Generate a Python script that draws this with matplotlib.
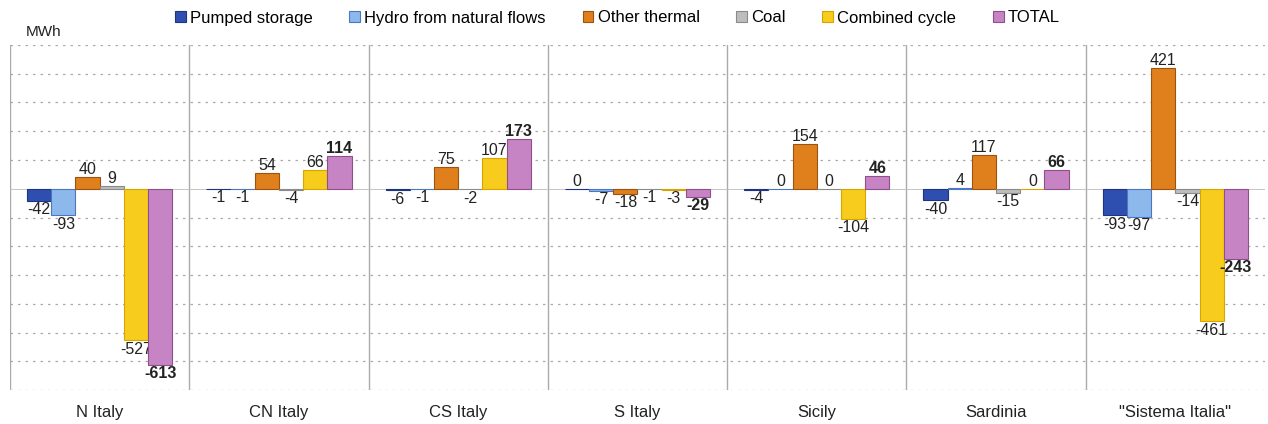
import numpy as np
import matplotlib.pyplot as plt
from matplotlib.patches import Patch

plt.rcParams['font.family'] = ['Liberation Sans', 'DejaVu Sans']

# data (MWh)
zones = ["N Italy", "CN Italy", "CS Italy", "S Italy", "Sicily", "Sardinia", "\"Sistema Italia\""]
series = ["Pumped storage", "Hydro from natural flows", "Other thermal", "Coal", "Combined cycle", "TOTAL"]
pumped = [-42, -1, -6, 0, -4, -40, -93]
hydro = [-93, -1, -1, -7, 0, 4, -97]
other_thermal = [40, 54, 75, -18, 154, 117, 421]
coal = [9, -4, -2, -1, 0, -15, -14]
combined = [-527, 66, 107, -3, -104, 0, -461]
total = [-613, 114, 173, -29, 46, 66, -243]

colors = ["#2f4fb0", "#8cb8ec", "#e0801c", "#bdbdbd", "#f7cc1c", "#c784c4"]
edges = ["#1d3580", "#4a78c0", "#9c5210", "#8a8a8a", "#d8a500", "#8f4f8c"]

fig = plt.figure(figsize=(12.68, 4.24), dpi=100)
ax = fig.add_axes([10 / 1268, 1 - 390 / 424, 1255 / 1268, 345 / 424])

x = np.arange(len(zones))
w = 0.135
all_series = [pumped, hydro, other_thermal, coal, combined, total]
for i, vals in enumerate(all_series):
    xs = x + (i - 2.5) * w
    ax.bar(xs, vals, w, color=colors[i], edgecolor=edges[i], linewidth=0.8, zorder=3)
    for xi, v in zip(xs, vals):
        weight = "bold" if i == 5 else "normal"
        if v >= 0:
            ax.annotate(str(v), (xi, v), xytext=(0, 0), textcoords="offset points",
                        ha="center", va="bottom", fontsize=11.5, color="#222222", fontweight=weight)
        else:
            ax.annotate(str(v), (xi, v), xytext=(0, -1), textcoords="offset points",
                        ha="center", va="top", fontsize=11.5, color="#222222", fontweight=weight)

ax.set_xlim(-0.5, len(zones) - 0.5)
ax.set_ylim(-700, 500)
for yv in range(-700, 501, 100):
    if yv == 0:
        continue
    ax.axhline(yv, color="#aaaaaa", linestyle=(0, (2, 4)), linewidth=0.9, zorder=1)
ax.axhline(0, color="#bbbbbb", linewidth=0.6, zorder=2)
for xv in np.arange(-0.5, len(zones) - 0.5, 1):
    ax.axvline(xv, color="#aaaaaa", linewidth=1.0, zorder=1)

for s in ax.spines.values():
    s.set_visible(False)
ax.set_yticks([])
ax.set_xticks(x)
ax.set_xticklabels(zones, fontsize=12, color="#222222")
ax.tick_params(axis="x", length=0, pad=11)

fig.text(26 / 1268, 1 - 32 / 424, "MWh", fontsize=11, color="#222222", va="center")

handles = [Patch(facecolor=c, edgecolor=e, linewidth=0.8) for c, e in zip(colors, edges)]
fig.legend(handles, series, loc="center", bbox_to_anchor=(0.487, 1 - 18 / 424), ncol=6,
           frameon=False, fontsize=12, handlelength=0.65, handleheight=0.65,
           handletextpad=0.25, columnspacing=2.2)

fig.savefig("out.png", dpi=100)
